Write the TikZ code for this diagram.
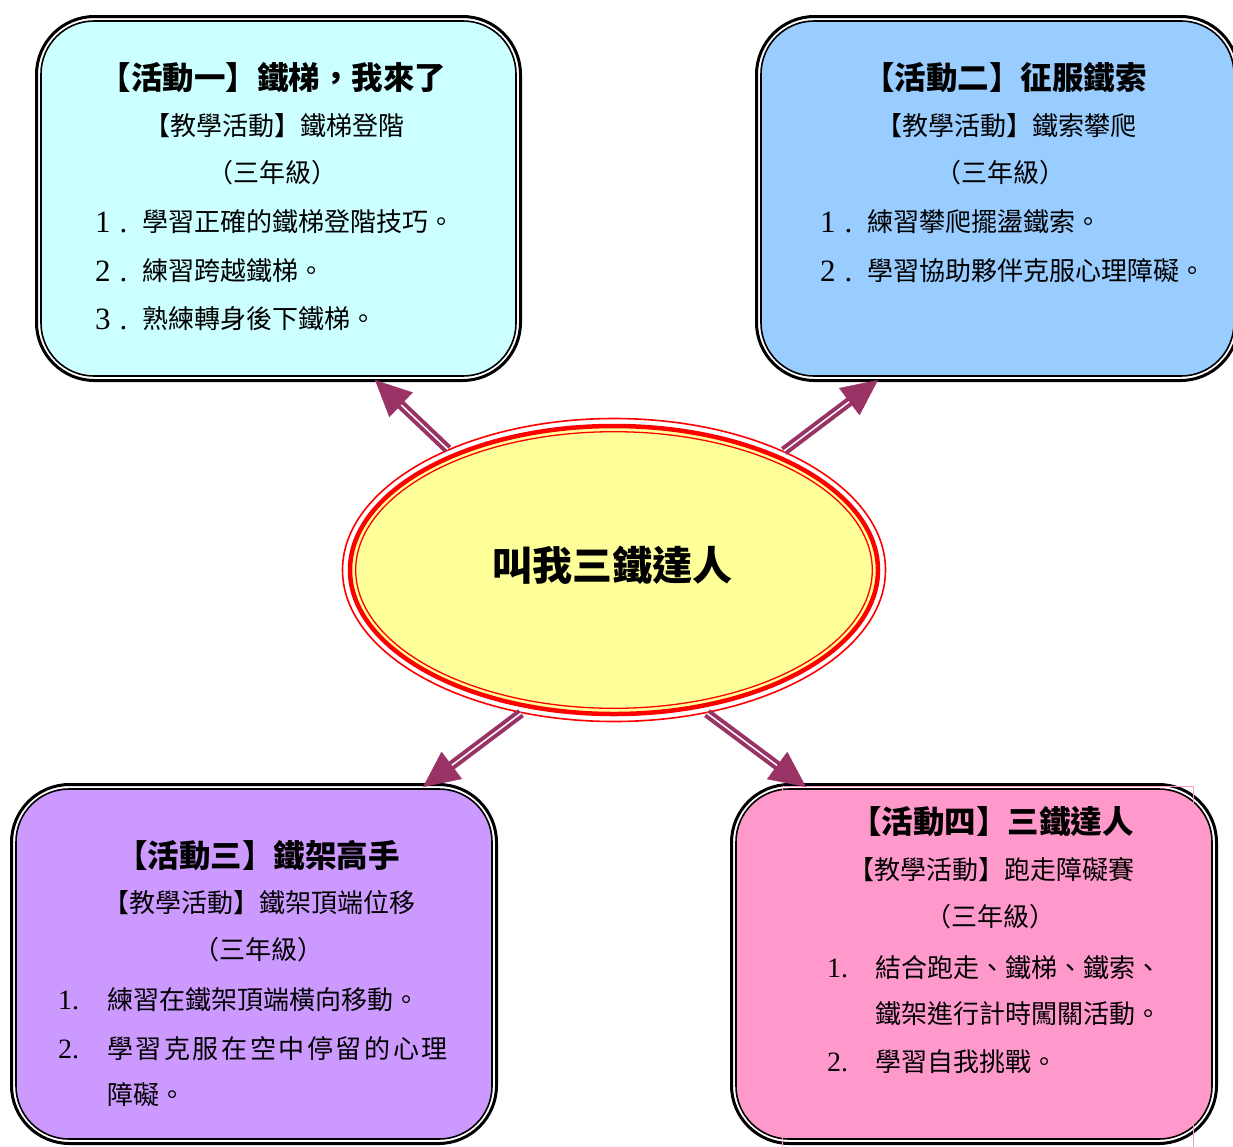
\documentclass[tikz,border=0pt]{standalone}
\usepackage{fontspec}
\newfontfamily\cjk{Noto Sans CJK TC}
\newfontfamily\numf{Liberation Serif}
\usetikzlibrary{arrows.meta,shapes.geometric}
\definecolor{cyanbox}{HTML}{CCFFFF}
\definecolor{bluebox}{HTML}{99CCFF}
\definecolor{purplebox}{HTML}{CC99FF}
\definecolor{pinkbox}{HTML}{FF99CC}
\definecolor{hubfill}{HTML}{FFFF99}
\definecolor{arrowc}{HTML}{993366}
\definecolor{hubred}{HTML}{FF0000}
\tikzset{
  boxout/.style={draw=black, fill=white, line width=3pt, rounded corners=58pt, inner sep=0pt},
  boxin/.style={draw=black, line width=1.6pt, rounded corners=53pt, inner sep=0pt},
  ttl/.style={font=\cjk\bfseries\fontsize{31.5}{31.5}\selectfont, inner sep=0pt},
  txt/.style={font=\cjk\fontsize{26}{26}\selectfont, inner sep=0pt},
  lft/.style={txt, anchor=west},
  num/.style={font=\numf\fontsize{28}{28}\selectfont, inner sep=0pt, anchor=west},
  fwnum/.style={font=\numf\fontsize{31}{31}\selectfont, inner sep=0pt, anchor=west},
  shaft/.style={draw=arrowc, line width=4pt, double=white, double distance=1.5pt, shorten >=18pt},
  head/.style={draw=white, line width=0.4pt,
    -{Triangle[length=36pt,width=34pt,color=arrowc,fill=arrowc]}},
  pinkframe/.style={draw=pinkbox, line width=0.8pt},
}
\begin{document}
\begin{tikzpicture}[x=1pt,y=-1pt]
\useasboundingbox (0,0) rectangle (1233,1146);
\clip (0,0) rectangle (1233,1146);
\fill[white] (0,0) rectangle (1233,1146);

% boxes
\node[boxout, minimum width=484pt, minimum height=364pt] (b1) at (278.5,198.5) {};
\node[boxin, fill=cyanbox, minimum width=475pt, minimum height=355pt] (b1i) at (b1.center) {};
\node[boxout, minimum width=482pt, minimum height=364pt] (b2) at (997.5,198.5) {};
\node[boxin, fill=bluebox, minimum width=473pt, minimum height=355pt] (b2i) at (b2.center) {};
\node[boxout, minimum width=485pt, minimum height=359pt] (b3) at (254,964) {};
\node[boxin, fill=purplebox, minimum width=476pt, minimum height=350pt] (b3i) at (b3.center) {};
\node[boxout, minimum width=485pt, minimum height=359pt] (b4) at (974,964) {};
\node[boxin, fill=pinkbox, minimum width=476pt, minimum height=350pt] (b4i) at (b4.center) {};
\draw[pinkframe] (782,786) rectangle (1193,1150);

% hub
\node[ellipse, draw=hubred, line width=1.6pt, minimum width=543pt, minimum height=303pt, inner sep=0pt] (hub) at (614,570) {};
\draw[hubred, line width=4.5pt, fill=hubfill] (hub.center) ellipse [x radius=264pt, y radius=144pt];
\draw[hubred, line width=1.3pt] (hub.center) ellipse [x radius=258.3pt, y radius=138.3pt];
\node[font=\cjk\bfseries\fontsize{40}{40}\selectfont, inner sep=0pt] (hubtext) at (612,565) {叫我三鐵達人};

% arrows
\coordinate (t1) at (375,380);
\coordinate (t2) at (878,380);
\coordinate (t3) at (423,787);
\coordinate (t4) at (806,787);
\draw[shaft] (hub.144) -- (t1);
\draw[head] (hub.144) -- (t1);
\draw[shaft] (hub.35) -- (t2);
\draw[head] (hub.35) -- (t2);
\draw[shaft] (hub.237) -- (t3);
\draw[head] (hub.237) -- (t3);
\draw[shaft] (hub.303) -- (t4);
\draw[head] (hub.303) -- (t4);

% box 1 text
\node[ttl] (b1t) at (273,78) {【活動一】鐵梯，我來了};
\node[txt] (b1s) at (274,126) {【教學活動】鐵梯登階};
\node[txt] (b1g) at (272,173) {（三年級）};
\node[fwnum] (b1n1) at (95,222) {1\kern9pt.};
\node[lft] (b1i1) at (142,222) {學習正確的鐵梯登階技巧。};
\node[fwnum] (b1n2) at (95,271) {2\kern9pt.};
\node[lft] (b1i2) at (142,271) {練習跨越鐵梯。};
\node[fwnum] (b1n3) at (95,319) {3\kern9pt.};
\node[lft] (b1i3) at (142,319) {熟練轉身後下鐵梯。};

% box 2 text
\node[ttl] (b2t) at (1005,78) {【活動二】征服鐵索};
\node[txt] (b2s) at (1006,126) {【教學活動】鐵索攀爬};
\node[txt] (b2g) at (1000,173) {（三年級）};
\node[fwnum] (b2n1) at (820,222) {1\kern9pt.};
\node[lft] (b2i1) at (867,222) {練習攀爬擺盪鐵索。};
\node[fwnum] (b2n2) at (820,271) {2\kern9pt.};
\node[lft] (b2i2) at (867,271) {學習協助夥伴克服心理障礙。};

% box 3 text
\node[ttl] (b3t) at (258,856) {【活動三】鐵架高手};
\node[txt] (b3s) at (259,903) {【教學活動】鐵架頂端位移};
\node[txt] (b3g) at (258,950) {（三年級）};
\node[num] (b3n1) at (58,1000) {1.};
\node[lft] (b3i1) at (107,1000) {練習在鐵架頂端橫向移動。};
\node[num] (b3n2) at (58,1049) {2.};
\node[lft] (b3i2) at (107,1049) {\addfontfeatures{LetterSpace=10}學習克服在空中停留的心理};
\node[lft] (b3i2b) at (107,1095) {障礙。};

% box 4 text
\node[ttl] (b4t) at (992,822) {【活動四】三鐵達人};
\node[txt] (b4s) at (991,870) {【教學活動】跑走障礙賽};
\node[txt] (b4g) at (990,917) {（三年級）};
\node[num] (b4n1) at (827,968) {1.};
\node[lft] (b4i1) at (875,968) {結合跑走、鐵梯、鐵索、};
\node[lft] (b4i1b) at (875,1014) {鐵架進行計時闖關活動。};
\node[num] (b4n2) at (827,1062) {2.};
\node[lft] (b4i2) at (875,1062) {學習自我挑戰。};
\end{tikzpicture}
\end{document}
